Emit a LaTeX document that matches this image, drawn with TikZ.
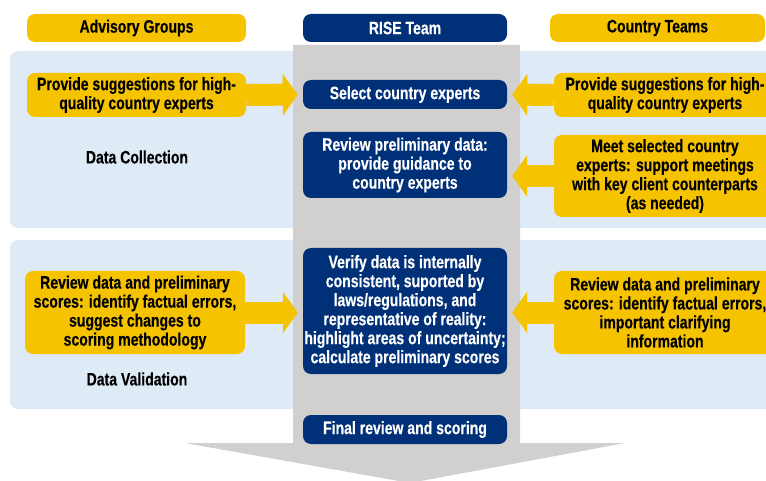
\documentclass[tikz,border=0pt]{standalone}
\usepackage{fontspec}
\setmainfont{Liberation Sans}[FakeStretch=0.78, BoldFeatures={FakeBold=0.3}]
\usetikzlibrary{arrows.meta}
\definecolor{ryellow}{RGB}{246,195,0}
\definecolor{rnavy}{RGB}{0,48,120}
\definecolor{rlblue}{RGB}{222,235,247}
\definecolor{rgray}{RGB}{209,208,206}
\begin{document}
\begin{tikzpicture}[x=1pt,y=-1pt,
  every node/.style={font=\fontsize{18}{19}\selectfont\bfseries, align=center, inner sep=0pt},
  ybox/.style={fill=ryellow, rounded corners=8pt, text=black},
  bbox/.style={fill=rnavy, rounded corners=8pt, text=white, minimum width=204pt},
  panel/.style={fill=rlblue, rounded corners=8pt},
  yarrow/.style={draw=ryellow, line width=22pt, -{Triangle[length=15pt,width=41pt]}, shorten >=5pt}]
\useasboundingbox (0,0) rectangle (766,481);
\clip (0,0) rectangle (766,481);
% panels
\fill[panel] (10,51) rectangle (790,228);
\fill[panel] (10,240) rectangle (790,409);
% gray column arrow
\fill[rgray] (293,45) -- (520,45) -- (520,443) -- (625,443) -- (410,483) -- (185,443) -- (293,443) -- cycle;
% headers
\node[ybox, minimum width=219pt, minimum height=28pt] (ah) at (136.5,28) {Advisory Groups};
\node[bbox, minimum height=28pt] (rh) at (405,28) {RISE Team};
\node[ybox, minimum width=215pt, minimum height=28pt] (ch) at (657.5,28) {Country Teams};
% labels
\node (dcl) at (137,157) {Data Collection};
\node (dvl) at (137,379) {Data Validation};
% blue boxes
\node[bbox, minimum height=29pt] (s1) at (405,94.5) {Select country experts};
\node[bbox, minimum height=66pt] (s2) at (405,165) {Review preliminary data:\\provide guidance to\\country experts};
\node[bbox, minimum height=126pt] (s3) at (405,311) {Verify data is internally\\consistent, suported by\\laws/regulations, and\\representative of reality:\\highlight areas of uncertainty;\\calculate preliminary scores};
\node[bbox, minimum height=29pt] (s4) at (405,429.5) {Final review and scoring};
% yellow boxes
\node[ybox, minimum width=219pt, minimum height=44pt] (l1) at (136.5,95) {Provide suggestions for high-\\quality country experts};
\node[ybox, minimum width=222pt, minimum height=44pt] (r1) at (665,95) {Provide suggestions for high-\\quality country experts};
\node[ybox, minimum width=222pt, minimum height=82pt] (r2) at (665,176) {Meet selected country\\experts: support meetings\\with key client counterparts\\(as needed)};
\node[ybox, minimum width=220pt, minimum height=83pt] (l2) at (135,312.5) {Review data and preliminary\\scores: identify factual errors,\\suggest changes to\\scoring methodology};
\node[ybox, minimum width=222pt, minimum height=83pt] (r3) at (665,312.5) {Review data and preliminary\\scores: identify factual errors,\\important clarifying\\information};
% arrows
\draw[yarrow] (l1.east) -- (s1.west);
\draw[yarrow] (r1.west) -- (s1.east);
\draw[yarrow] (r2.west) -- (r2.west -| s2.east);
\draw[yarrow] (l2.east) -- (l2.east -| s3.west);
\draw[yarrow] (r3.west) -- (r3.west -| s3.east);
\end{tikzpicture}
\end{document}
